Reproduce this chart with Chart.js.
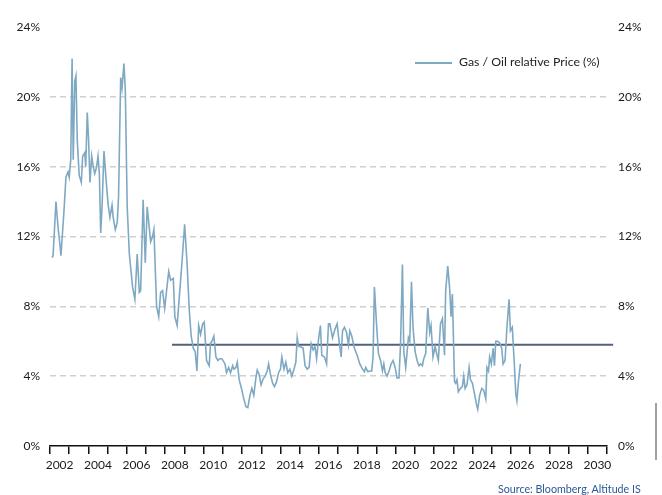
<!DOCTYPE html>
<html>
<head>
<meta charset="utf-8">
<script src="https://cdn.jsdelivr.net/npm/chart.js@4.4.1/dist/chart.umd.min.js"></script>
<style>
  html, body { margin: 0; padding: 0; background: #fff; }
  #wrap { position: relative; width: 662px; height: 495px; }
  #legend { position: absolute; left: 415px; top: 54px; font: 12.3px Lato, sans-serif; color: #222; white-space: nowrap; }
  #legend .swatch { display: inline-block; width: 37px; height: 2px; vertical-align: middle; margin-right: 7px; }
  #source { position: absolute; left: 498px; top: 482px; font: 10.7px Lato, sans-serif; color: #2a5896; white-space: nowrap; }
  #edge { position: absolute; left: 655px; top: 403px; width: 2px; height: 57px; background: #a99f97; }
</style>
</head>
<body>
<div id="wrap">
  <canvas id="chart" width="662" height="495"></canvas>
  <div id="legend"></div>
  <div id="source">Source: Bloomberg, Altitude IS</div>
  <div id="edge"></div>
</div>
<script>
// decimal year / gas-to-oil relative price (%)
var years = [
  2002.10, 2002.16, 2002.31, 2002.42, 2002.52, 2002.57, 2002.73, 2002.83, 2002.94, 2003.00,
  2003.08, 2003.15, 2003.21, 2003.29, 2003.35, 2003.42, 2003.52, 2003.63, 2003.70, 2003.81,
  2003.86, 2003.94, 2004.01, 2004.08, 2004.17, 2004.25, 2004.33, 2004.43, 2004.50, 2004.57,
  2004.64, 2004.71, 2004.81, 2004.91, 2005.02, 2005.12, 2005.23, 2005.29, 2005.40, 2005.50,
  2005.57, 2005.68, 2005.75, 2005.85, 2005.92, 2006.02, 2006.13, 2006.30, 2006.42, 2006.54,
  2006.65, 2006.72, 2006.85, 2006.96, 2007.06, 2007.24, 2007.34, 2007.41, 2007.55, 2007.66,
  2007.76, 2007.86, 2007.97, 2008.07, 2008.18, 2008.28, 2008.42, 2008.50, 2008.62, 2008.73,
  2008.87, 2009.01, 2009.14, 2009.25, 2009.35, 2009.46, 2009.56, 2009.65, 2009.74, 2009.84,
  2009.95, 2010.03, 2010.15, 2010.29, 2010.36, 2010.43, 2010.53, 2010.64, 2010.74, 2010.85,
  2010.95, 2011.11, 2011.19, 2011.30, 2011.40, 2011.51, 2011.57, 2011.68, 2011.75, 2011.85,
  2011.99, 2012.09, 2012.20, 2012.30, 2012.41, 2012.51, 2012.61, 2012.72, 2012.79, 2012.89,
  2012.99, 2013.10, 2013.20, 2013.31, 2013.38, 2013.48, 2013.59, 2013.69, 2013.80, 2013.90,
  2014.00, 2014.07, 2014.18, 2014.28, 2014.38, 2014.49, 2014.59, 2014.70, 2014.80, 2014.87,
  2014.94, 2015.03, 2015.18, 2015.28, 2015.39, 2015.49, 2015.60, 2015.70, 2015.80, 2015.88,
  2015.98, 2016.08, 2016.15, 2016.29, 2016.40, 2016.50, 2016.57, 2016.71, 2016.84, 2016.95,
  2017.05, 2017.16, 2017.23, 2017.33, 2017.44, 2017.54, 2017.61, 2017.71, 2017.85, 2017.99,
  2018.13, 2018.27, 2018.37, 2018.44, 2018.55, 2018.65, 2018.75, 2018.82, 2018.89, 2019.00,
  2019.10, 2019.21, 2019.31, 2019.38, 2019.45, 2019.55, 2019.65, 2019.76, 2019.86, 2019.97,
  2020.07, 2020.17, 2020.25, 2020.35, 2020.42, 2020.52, 2020.66, 2020.73, 2020.82, 2020.90,
  2021.01, 2021.11, 2021.21, 2021.29, 2021.39, 2021.46, 2021.56, 2021.67, 2021.77, 2021.84,
  2021.94, 2022.05, 2022.15, 2022.22, 2022.33, 2022.43, 2022.54, 2022.60, 2022.71, 2022.81,
  2022.88, 2022.95, 2023.06, 2023.12, 2023.19, 2023.26, 2023.37, 2023.47, 2023.54, 2023.61,
  2023.71, 2023.82, 2023.89, 2023.99, 2024.10, 2024.20, 2024.27, 2024.37, 2024.48, 2024.58,
  2024.69, 2024.75, 2024.83, 2024.89, 2024.98, 2025.07, 2025.14, 2025.21, 2025.31, 2025.41,
  2025.52, 2025.59, 2025.69, 2025.79, 2025.90, 2025.97, 2026.07, 2026.18, 2026.25, 2026.31,
  2026.39, 2026.49
];
var ratio = [
  10.8, 10.9, 14.0, 12.5, 11.5, 10.9, 13.5, 15.4, 15.7, 15.4,
  16.4, 22.2, 16.4, 20.9, 21.2, 17.5, 15.5, 15.1, 16.6, 16.8,
  16.0, 19.1, 17.5, 15.1, 16.6, 16.0, 15.6, 16.0, 16.6, 15.6,
  12.2, 13.7, 16.9, 15.4, 13.9, 13.1, 13.8, 13.1, 12.4, 12.8,
  14.3, 21.1, 20.5, 21.9, 20.4, 13.7, 11.0, 9.1, 8.4, 11.0,
  8.8, 8.9, 14.1, 10.5, 13.7, 11.7, 12.0, 12.4, 8.0, 7.4,
  8.8, 8.9, 7.9, 8.9, 10.0, 9.5, 9.6, 7.4, 6.9, 8.5,
  10.5, 12.7, 10.4, 7.8, 6.3, 5.6, 5.4, 4.3, 6.9, 6.4,
  7.0, 7.1, 4.9, 4.6, 5.9, 6.0, 6.3, 5.1, 4.9, 5.0,
  5.0, 4.7, 4.2, 4.5, 4.2, 4.6, 4.4, 4.5, 4.8, 3.8,
  3.2, 2.7, 2.25, 2.2, 2.9, 3.3, 2.9, 3.9, 4.35, 4.1,
  3.5, 3.85, 4.0, 4.3, 4.7, 4.1, 3.6, 3.4, 3.7, 4.2,
  4.4, 5.1, 4.4, 4.8, 4.2, 4.4, 4.0, 4.4, 4.8, 6.2,
  5.7, 5.7, 5.6, 4.6, 4.4, 4.5, 5.85, 5.5, 5.7, 5.0,
  6.1, 6.9, 5.2, 5.1, 4.7, 7.0, 7.0, 6.2, 6.7, 7.0,
  6.0, 5.1, 6.6, 6.8, 6.5, 5.8, 6.6, 6.3, 5.6, 5.2,
  4.7, 4.4, 4.25, 4.5, 4.25, 4.3, 4.3, 5.1, 9.1, 7.0,
  5.3, 4.9, 4.3, 4.7, 4.2, 4.0, 4.3, 4.7, 4.9, 4.5,
  3.9, 3.9, 5.8, 10.4, 5.4, 4.5, 6.2, 6.0, 9.4, 6.8,
  5.4, 4.9, 4.6, 4.7, 4.6, 5.0, 5.3, 7.9, 6.5, 6.9,
  5.1, 5.7, 5.2, 4.9, 7.0, 7.3, 5.2, 8.9, 10.3, 9.0,
  7.4, 8.7, 3.7, 3.6, 3.8, 3.1, 3.3, 3.4, 4.0, 3.3,
  3.5, 4.5, 3.8, 3.6, 3.0, 2.4, 2.1, 2.9, 3.3, 3.2,
  2.7, 4.5, 4.3, 5.1, 4.7, 5.6, 4.6, 6.0, 6.0, 5.9,
  5.6, 4.7, 4.9, 6.8, 8.4, 6.6, 6.8, 4.6, 3.0, 2.6,
  3.7, 4.7
];

// long-run average line
var avgYears = [2008.35, 2031.32];
var avgValues = [5.8, 5.8];

var yTicks = [0, 4, 8, 12, 16, 20, 24];
var tickFont = { family: 'Lato', size: 12 };

var series = years.map(function(y, i) { return { x: y, y: ratio[i] }; });
var avgLine = avgYears.map(function(y, i) { return { x: y, y: avgValues[i] }; });

var lineColor = '#7fa9c2';

var chart = new Chart(document.getElementById('chart'), {
  type: 'line',
  data: {
    datasets: [{
      label: 'Gas / Oil relative Price (%)',
      data: series,
      borderColor: lineColor,
      backgroundColor: lineColor,
      borderWidth: 1.6,
      pointRadius: 0,
      tension: 0,
      yAxisID: 'y'
    }, {
      label: 'avg',
      data: avgLine,
      borderColor: '#55617a',
      borderWidth: 2,
      pointRadius: 0,
      clip: false,
      yAxisID: 'y'
    }]
  },
  options: {
    responsive: false,
    devicePixelRatio: 1,
    animation: false,
    layout: { padding: { top: 27, left: 0, right: 0, bottom: 0 } },
    plugins: {
      legend: { display: false },
      tooltip: { enabled: false }
    },
    scales: {
      x: {
        type: 'linear',
        min: 2002,
        max: 2031,
        afterBuildTicks: function(scale) {
          var t = [];
          for (var v = 2002; v <= 2031; v++) t.push({ value: v });
          scale.ticks = t;
        },
        afterFit: function(scale) { scale.height = 49; },
        ticks: {
          autoSkip: false,
          maxRotation: 0,
          labelOffset: 9.6,
          padding: 4,
          color: '#1a1a1a',
          font: tickFont,
          callback: function(v) { return (v % 2 === 0 && v < 2031) ? String(v) : ''; }
        },
        grid: { drawOnChartArea: false, drawTicks: true, tickLength: 8, color: '#111', lineWidth: 1.5 },
        border: { display: true, color: '#111', width: 1.5 }
      },
      y: {
        position: 'left',
        min: 0,
        max: 24,
        afterBuildTicks: function(scale) { scale.ticks = yTicks.map(function(v) { return { value: v }; }); },
        afterFit: function(scale) { scale.width = 50; },
        ticks: {
          padding: 10,
          color: '#1a1a1a',
          font: tickFont,
          callback: function(v) { return v + '%'; }
        },
        grid: {
          drawTicks: false,
          lineWidth: 1.5,
          color: function(ctx) {
            var v = ctx.tick ? ctx.tick.value : null;
            return (v === 0 || v === 24) ? 'rgba(0,0,0,0)' : '#cfcfcf';
          }
        },
        border: { display: false, dash: [6, 4] }
      },
      y2: {
        position: 'right',
        min: 0,
        max: 24,
        afterBuildTicks: function(scale) { scale.ticks = yTicks.map(function(v) { return { value: v }; }); },
        afterFit: function(scale) { scale.width = 55; },
        ticks: {
          padding: 11,
          color: '#1a1a1a',
          font: tickFont,
          callback: function(v) { return v + '%'; }
        },
        grid: { display: false, drawTicks: false },
        border: { display: false }
      }
    }
  }
});

// legend drawn as html text next to a line swatch
var legend = document.getElementById('legend');
var sw = document.createElement('span');
sw.className = 'swatch';
sw.style.background = lineColor;
legend.appendChild(sw);
legend.appendChild(document.createTextNode(chart.data.datasets[0].label));
</script>
</body>
</html>
